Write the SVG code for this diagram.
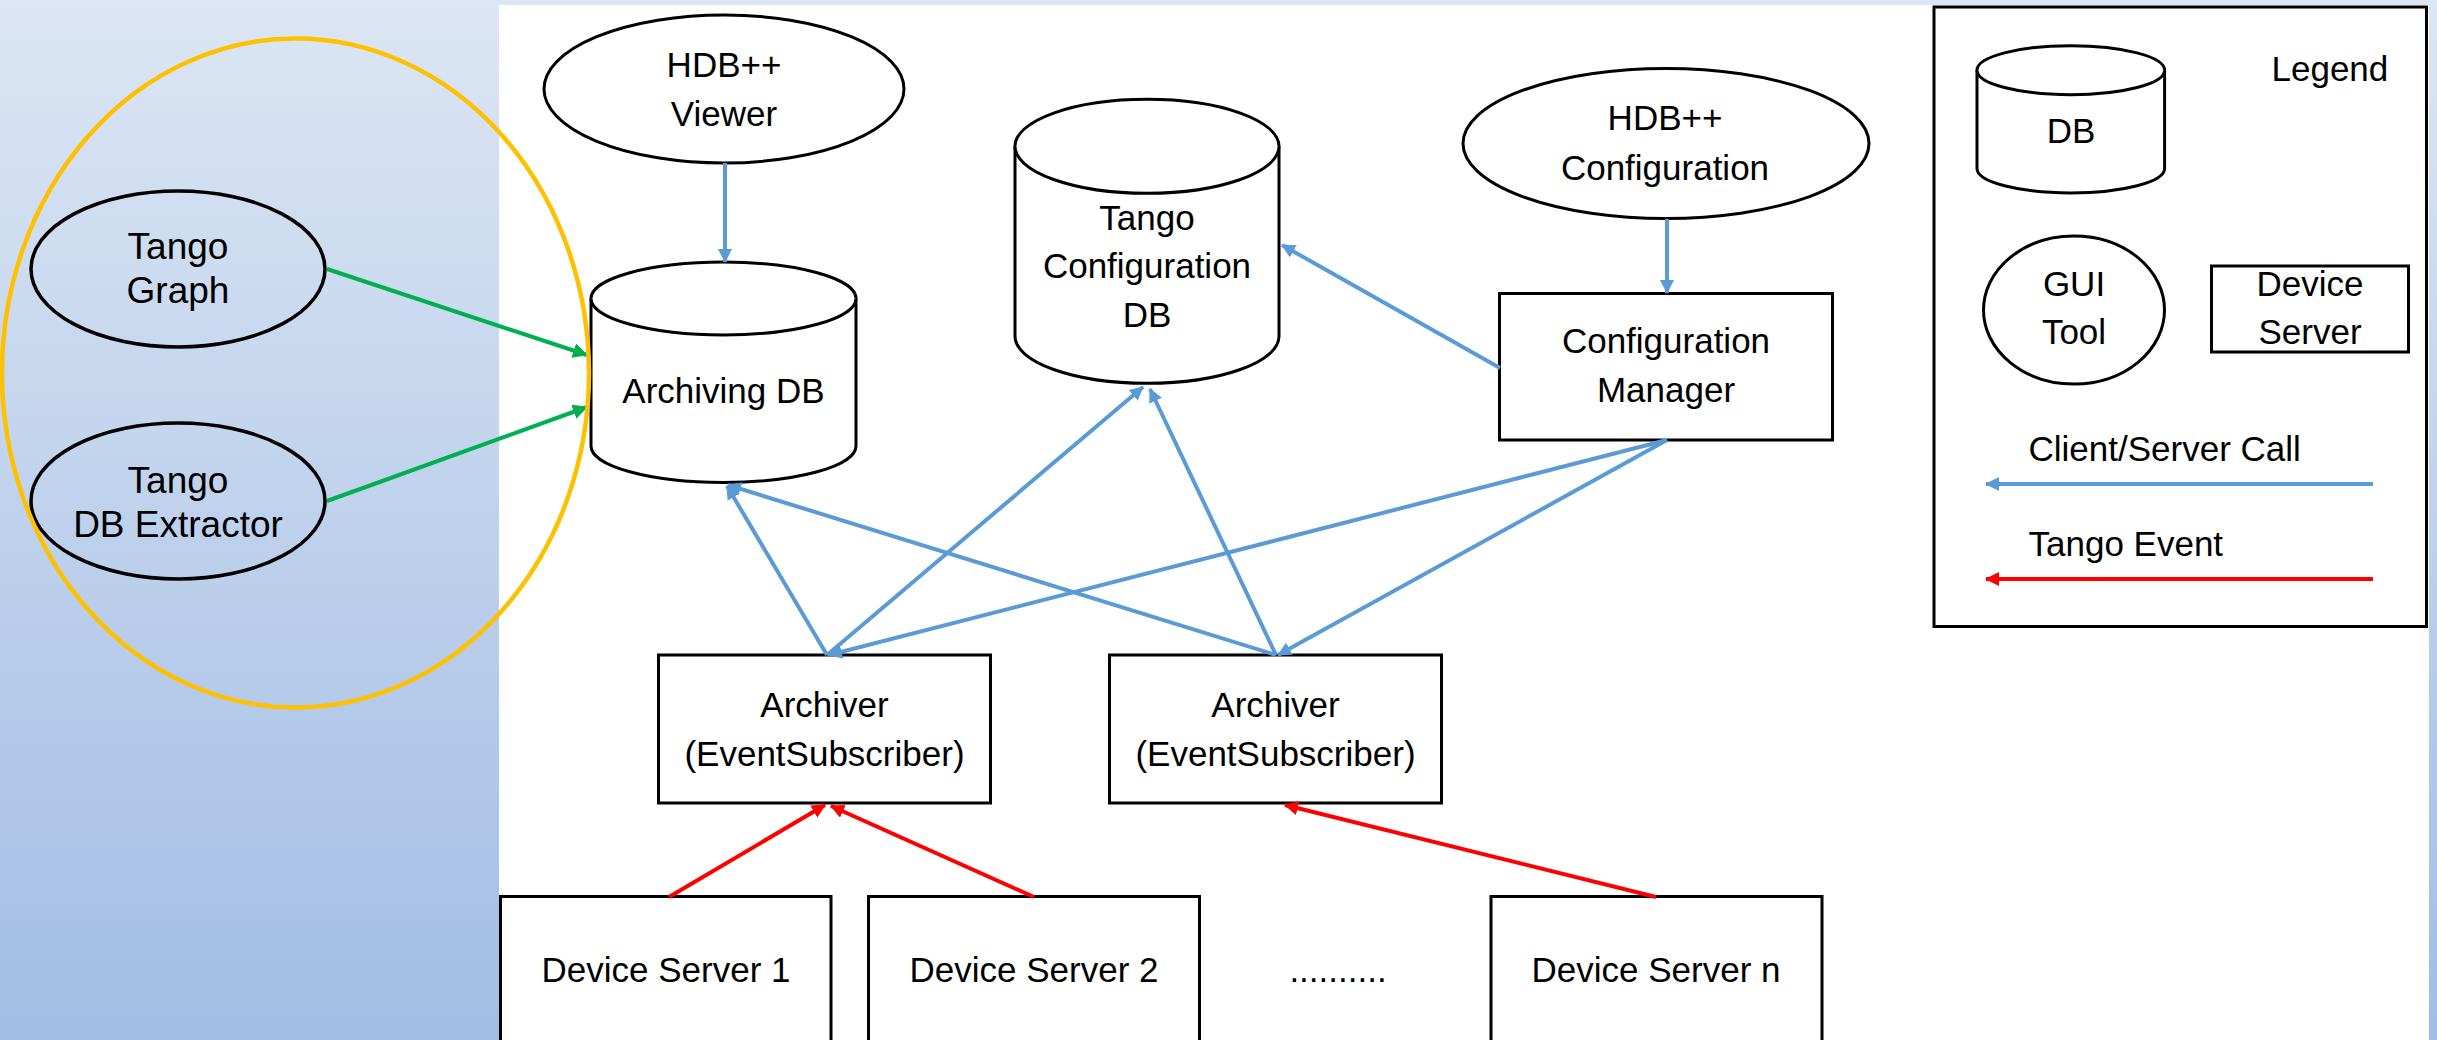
<svg xmlns="http://www.w3.org/2000/svg" width="2437" height="1040" viewBox="0 0 2437 1040">
<defs>
  <linearGradient id="bg" x1="0" y1="0" x2="0" y2="1">
    <stop offset="0" stop-color="#DCE6F4"/>
    <stop offset="1" stop-color="#A2BDE4"/>
  </linearGradient>
  <marker id="ah-blue" markerUnits="userSpaceOnUse" markerWidth="16" markerHeight="16" refX="13" refY="7" orient="auto">
    <path d="M0,0 L14,7 L0,14 z" fill="#5B9BD5"/>
  </marker>
  <marker id="ah-red" markerUnits="userSpaceOnUse" markerWidth="16" markerHeight="16" refX="13" refY="7" orient="auto">
    <path d="M0,0 L14,7 L0,14 z" fill="#FF0000"/>
  </marker>
  <marker id="ah-green" markerUnits="userSpaceOnUse" markerWidth="18" markerHeight="18" refX="14" refY="7.5" orient="auto">
    <path d="M0,0 L15,7.5 L0,15 z" fill="#00B050"/>
  </marker>
</defs>
<style>
  .shape { fill: #FFFFFF; stroke: #000000; stroke-width: 3; }
  .oval { fill: none; stroke: #000000; stroke-width: 3.5; }
  .t { font-family: "Liberation Sans", Arial, sans-serif; font-size: 35px; fill: #000000; text-anchor: middle; }
  .ta { font-family: "Liberation Sans", Arial, sans-serif; font-size: 37px; fill: #000000; text-anchor: middle; }
  .tl { font-family: "Liberation Sans", Arial, sans-serif; font-size: 35px; fill: #000000; text-anchor: start; }
  .blue { stroke: #5B9BD5; stroke-width: 4; fill: none; marker-end: url(#ah-blue); }
  .red { stroke: #FF0000; stroke-width: 4; fill: none; marker-end: url(#ah-red); }
  .green { stroke: #00B050; stroke-width: 4; fill: none; marker-end: url(#ah-green); }
</style>

<rect x="0" y="0" width="2437" height="1040" fill="url(#bg)"/>
<rect x="499" y="5" width="1930" height="1040" fill="#FFFFFF"/>

<g id="tango-graph">
  <ellipse class="oval" cx="178" cy="269" rx="147" ry="78"/>
  <text class="ta" x="178" y="259">Tango</text>
  <text class="ta" x="178" y="303">Graph</text>
</g>
<g id="tango-db-extractor">
  <ellipse class="oval" cx="178" cy="501" rx="147" ry="78"/>
  <text class="ta" x="178" y="493">Tango</text>
  <text class="ta" x="178" y="537">DB Extractor</text>
</g>

<g id="hdb-viewer">
  <ellipse class="shape" cx="724" cy="89" rx="180" ry="74"/>
  <text class="t" x="724" y="77">HDB++</text>
  <text class="t" x="724" y="126">Viewer</text>
</g>

<g id="archiving-db">
  <path class="shape" d="M591,298.5 A132.5,36.5 0 0 1 856,298.5 V446 A132.5,36.5 0 0 1 591,446 Z"/>
  <path class="shape" fill="none" d="M591,298.5 A132.5,36.5 0 0 0 856,298.5"/>
  <text class="t" x="723.5" y="403">Archiving DB</text>
</g>

<g id="tango-config-db">
  <path class="shape" d="M1015,146.3 A132,47 0 0 1 1279,146.3 V336.3 A132,47 0 0 1 1015,336.3 Z"/>
  <path class="shape" fill="none" d="M1015,146.3 A132,47 0 0 0 1279,146.3"/>
  <text class="t" x="1147" y="230">Tango</text>
  <text class="t" x="1147" y="278">Configuration</text>
  <text class="t" x="1147" y="327">DB</text>
</g>

<g id="hdb-configuration">
  <ellipse class="shape" cx="1666" cy="143.5" rx="203" ry="75"/>
  <text class="t" x="1665" y="130">HDB++</text>
  <text class="t" x="1665" y="180">Configuration</text>
</g>

<g id="configuration-manager">
  <rect class="shape" x="1499.5" y="293.5" width="333" height="146.5"/>
  <text class="t" x="1666" y="353">Configuration</text>
  <text class="t" x="1666" y="402">Manager</text>
</g>

<g id="archiver-1">
  <rect class="shape" x="658.5" y="655" width="332" height="148"/>
  <text class="t" x="824.5" y="717">Archiver</text>
  <text class="t" x="824.5" y="766">(EventSubscriber)</text>
</g>

<g id="archiver-2">
  <rect class="shape" x="1109.5" y="655" width="332" height="148"/>
  <text class="t" x="1275.5" y="717">Archiver</text>
  <text class="t" x="1275.5" y="766">(EventSubscriber)</text>
</g>

<g id="device-server-1">
  <rect class="shape" x="500.5" y="896.5" width="330.5" height="160"/>
  <text class="t" x="666" y="982">Device Server 1</text>
</g>
<g id="device-server-2">
  <rect class="shape" x="868.5" y="896.5" width="331" height="160"/>
  <text class="t" x="1034" y="982">Device Server 2</text>
</g>
<g id="dots">
  <text class="t" x="1338" y="982">..........</text>
</g>
<g id="device-server-n">
  <rect class="shape" x="1491" y="896.5" width="331" height="160"/>
  <text class="t" x="1656" y="982">Device Server n</text>
</g>

<g id="legend">
  <rect class="shape" x="1934" y="7" width="492.5" height="619.5"/>
  <text class="tl" x="2271.5" y="81">Legend</text>
  <g id="legend-db">
    <path class="shape" d="M1977,70.2 A93.8,24.5 0 0 1 2164.6,70.2 V168.4 A93.8,24.5 0 0 1 1977,168.4 Z"/>
    <path class="shape" fill="none" d="M1977,70.2 A93.8,24.5 0 0 0 2164.6,70.2"/>
    <text class="t" x="2071" y="143">DB</text>
  </g>
  <g id="legend-gui">
    <ellipse class="shape" cx="2074" cy="310" rx="90.5" ry="74"/>
    <text class="t" x="2074" y="296">GUI</text>
    <text class="t" x="2074" y="344">Tool</text>
  </g>
  <g id="legend-ds">
    <rect class="shape" x="2211.5" y="266" width="197" height="86"/>
    <text class="t" x="2310" y="296">Device</text>
    <text class="t" x="2310" y="344">Server</text>
  </g>
  <text class="tl" x="2028.5" y="461">Client/Server Call</text>
  <line class="blue" x1="2373" y1="484" x2="1986" y2="484"/>
  <text class="tl" x="2028.5" y="556">Tango Event</text>
  <line class="red" x1="2373" y1="579" x2="1986" y2="579"/>
</g>

<g id="connectors">
  <line class="blue" x1="725" y1="163" x2="725" y2="262"/>
  <line class="blue" x1="1667" y1="219" x2="1667" y2="293"/>
  <line class="blue" x1="1500" y1="368" x2="1282" y2="245"/>
  <line class="blue" x1="827" y1="655" x2="727" y2="486"/>
  <line class="blue" x1="827" y1="655" x2="1143" y2="387"/>
  <line class="blue" x1="1276" y1="655" x2="728" y2="485"/>
  <line class="blue" x1="1276" y1="655" x2="1150" y2="389"/>
  <line class="blue" x1="1667" y1="440" x2="829" y2="655"/>
  <line class="blue" x1="1667" y1="440" x2="1278" y2="655"/>
  <line class="red" x1="669" y1="897" x2="825" y2="805"/>
  <line class="red" x1="1034" y1="897" x2="831" y2="806"/>
  <line class="red" x1="1656" y1="897" x2="1285" y2="805"/>
  <line class="green" x1="327" y1="269" x2="587" y2="355"/>
  <line class="green" x1="327" y1="501" x2="587" y2="407"/>
</g>

<g id="tango-tools-group">
  <ellipse cx="295.5" cy="373" rx="293.5" ry="334.5" fill="none" stroke="#FFC000" stroke-width="4.5"/>
</g>
</svg>
